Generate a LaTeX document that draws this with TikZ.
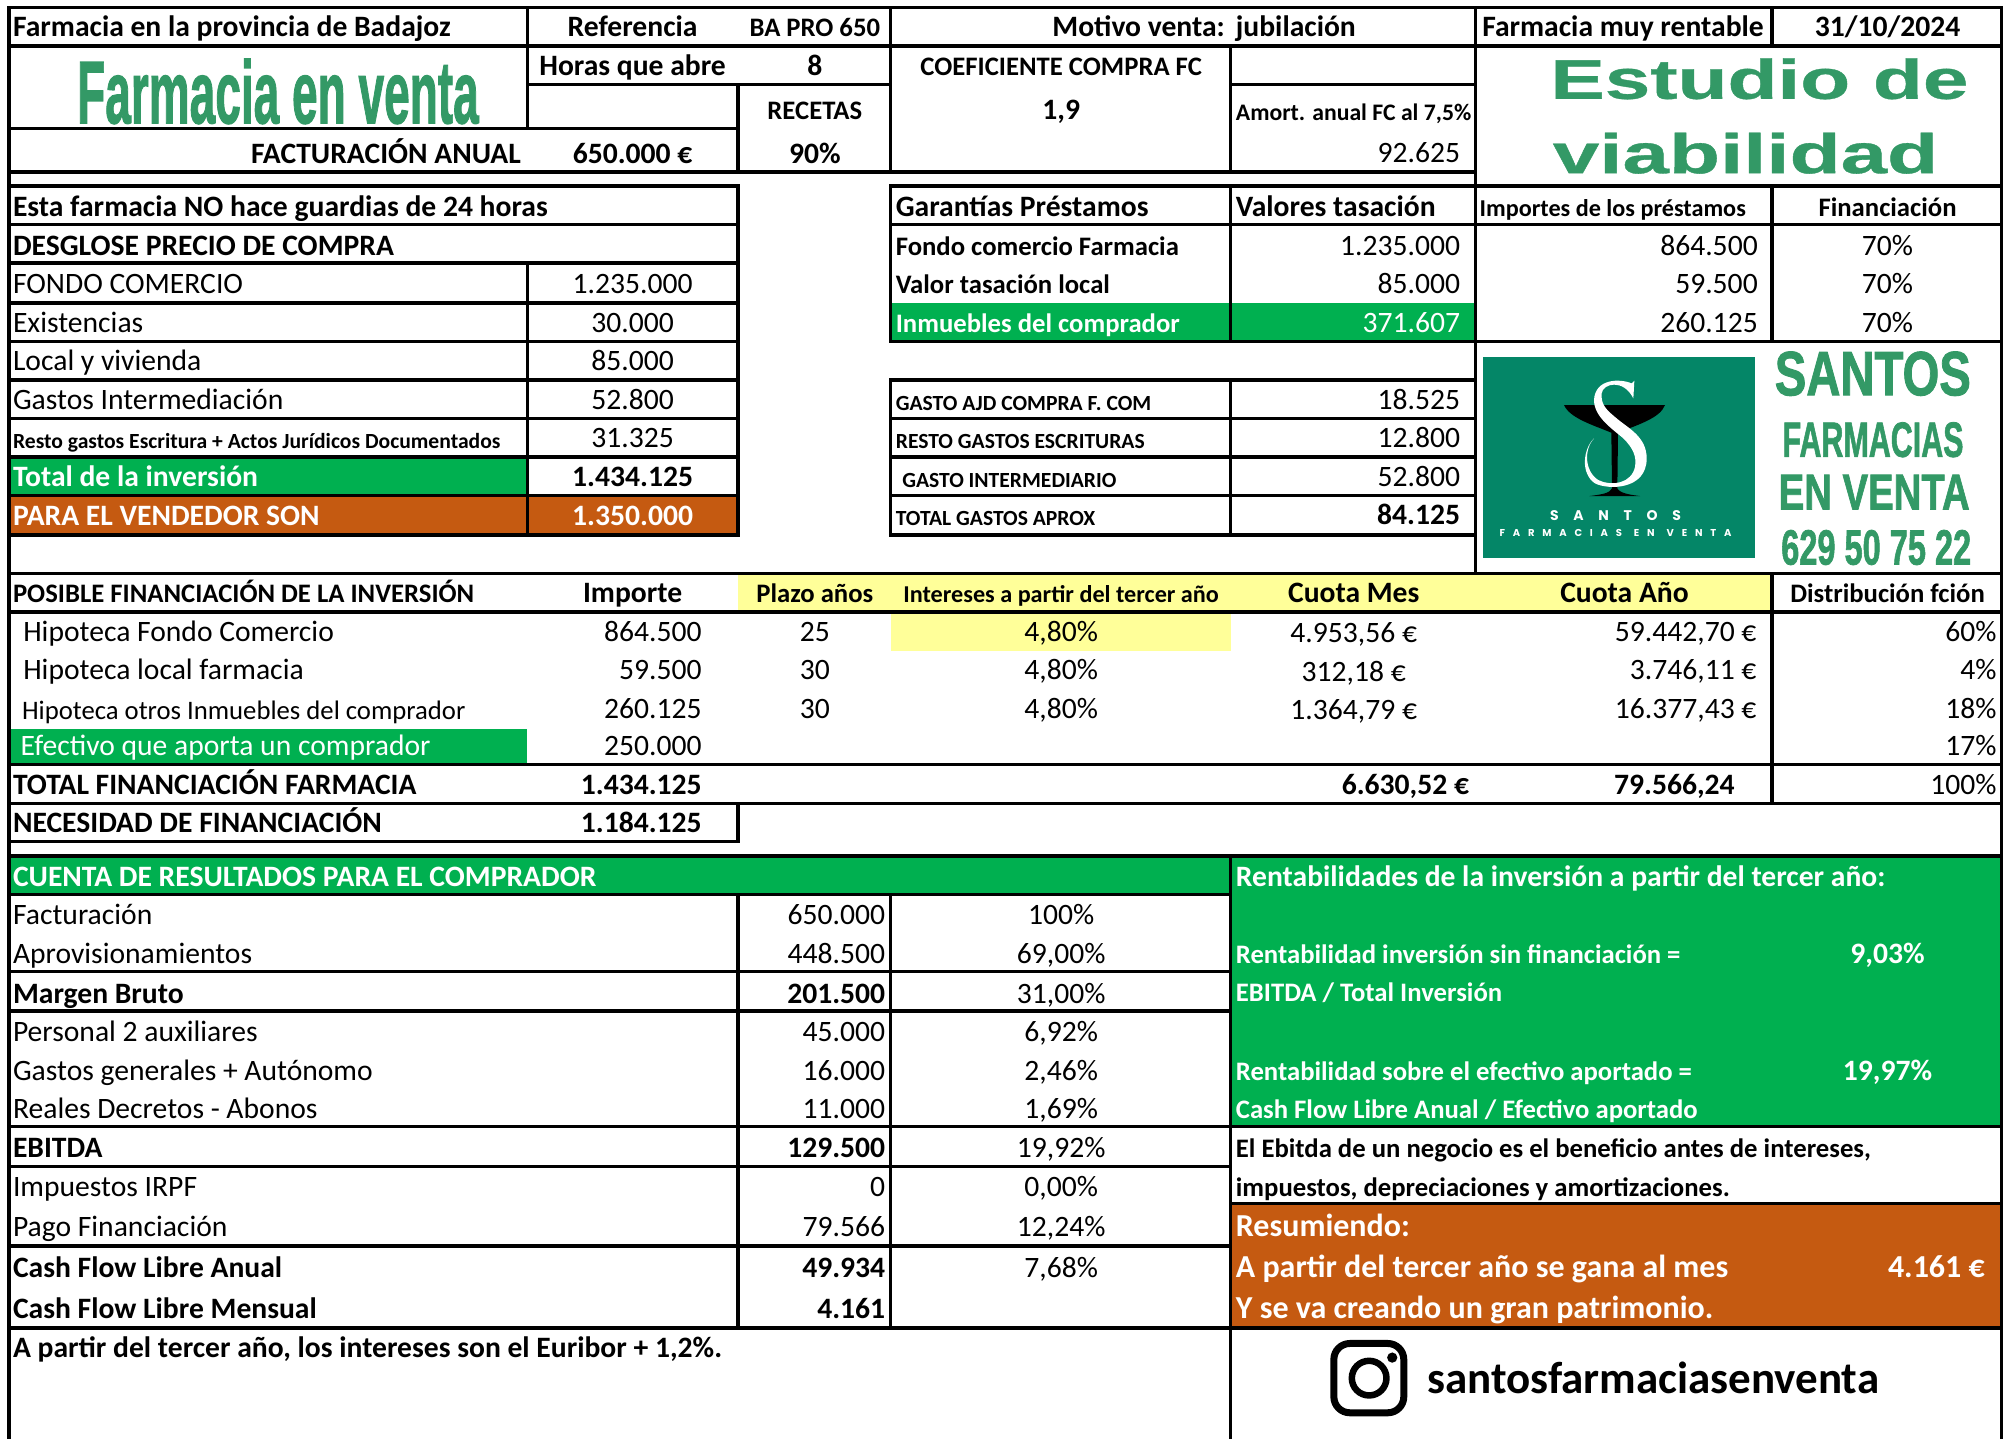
\documentclass[tikz,border=0pt]{standalone}
\usepackage{fontspec}
\setmainfont{Carlito}
\newfontfamily\artfont{Liberation Sans}[BoldFeatures={FakeBold=0.6}]
\newfontfamily\artfat{Liberation Sans}[BoldFeatures={FakeBold=1.6}]
\newfontfamily\logofonta{Poppins}[LetterSpace=105]
\newfontfamily\logofontb{Poppins}[LetterSpace=78]
\definecolor{xgreen}{HTML}{00B050}
\definecolor{xorange}{HTML}{C55A11}
\definecolor{xyellow}{HTML}{FFFF99}
\definecolor{artgreen}{HTML}{339966}
\definecolor{logogreen}{HTML}{048667}
\newcounter{tn}
\newcommand\tn[4]{\stepcounter{tn}\node[#1] (t\thetn) at (#2,#3+0.8) {#4};}
\newcommand\art[5]{\stepcounter{tn}\node[tArt] (t\thetn) at (#1,#2) {\resizebox{#3pt}{#4pt}{#5}};}
\tikzset{
  grid/.style={line width=3.4pt,line cap=rect,black},
  tL/.style={inner sep=0pt,anchor=base west,font=\fontsize{29.6}{29.6}\selectfont},
  tC/.style={inner sep=0pt,anchor=base,font=\fontsize{29.6}{29.6}\selectfont},
  tR/.style={inner sep=0pt,anchor=base east,font=\fontsize{29.6}{29.6}\selectfont},
  tB/.style={font=\fontsize{29.6}{29.6}\selectfont\bfseries},
  tBb/.style={font=\fontsize{32}{32}\selectfont\bfseries},
  tBs/.style={font=\fontsize{26.7}{26.7}\selectfont\bfseries},
  tBi/.style={font=\fontsize{24.2}{24.2}\selectfont\bfseries},
  tBa/.style={font=\fontsize{23.7}{23.7}\selectfont\bfseries},
  tBxs/.style={font=\fontsize{21.6}{21.6}\selectfont\bfseries},
  tN/.style={font=\fontsize{29.6}{29.6}\selectfont},
  tNs/.style={font=\fontsize{26.7}{26.7}\selectfont},
  tW/.style={text=white},
  tArt/.style={inner sep=0pt,anchor=base west,text=artgreen},
}
\begin{document}
\begin{tikzpicture}[x=1.2832pt,y=-1.2832pt]
\useasboundingbox (0,0) rectangle (1568,1121.4);
\fill[white] (0,0) rectangle (1568,1121.4);
% fills
\fill[xgreen] (7,356) rectangle (411,386);
\fill[xorange] (7,386) rectangle (575,417);
\fill[xgreen] (694,236) rectangle (1150,266);
\fill[xyellow] (575,447) rectangle (1381,477);
\fill[xyellow] (694,477) rectangle (959,507);
\fill[xgreen] (7,568) rectangle (411,596);
\fill[xgreen] (7,667) rectangle (959,697);
\fill[xgreen] (959,667) rectangle (1560,878);
\fill[xorange] (959,938) rectangle (1560,1035);
% horizontal rules
\draw[grid] (7,6) -- (1560,6);
\draw[grid] (7,36) -- (1560,36);
\draw[grid] (411,66) -- (694,66);
\draw[grid] (959,66) -- (1150,66);
\draw[grid] (7,100) -- (575,100);
\draw[grid] (7,134) -- (1150,134);
\draw[grid] (7,145) -- (575,145);
\draw[grid] (694,145) -- (1560,145);
\draw[grid] (7,175) -- (575,175);
\draw[grid] (694,175) -- (1560,175);
\foreach \yy in {205,236,266,296,326,356,386,417} {\draw[grid] (7,\yy) -- (575,\yy);}
\draw[grid] (694,266) -- (1560,266);
\foreach \yy in {296,326,356,386,417} {\draw[grid] (694,\yy) -- (1150,\yy);}
\draw[grid] (7,447) -- (1560,447);
\draw[grid] (7,477) -- (1560,477);
\draw[grid] (7,596) -- (1560,596);
\draw[grid] (7,626) -- (1560,626);
\draw[grid] (7,656) -- (575,656);
\draw[grid] (7,667) -- (1560,667);
\foreach \yy in {697,757,788,878,909,971} {\draw[grid] (7,\yy) -- (959,\yy);}
\draw[grid] (959,878) -- (1560,878);
\draw[grid] (959,938) -- (1560,938);
\draw[grid] (7,1035) -- (1560,1035);
% vertical rules
\draw[grid] (7,6) -- (7,1121.4);
\draw[grid] (1560,6) -- (1560,1121.4);
\draw[grid] (411,6) -- (411,100);
\draw[grid] (411,205) -- (411,417);
\draw[grid] (575,66) -- (575,134);
\draw[grid] (575,145) -- (575,417);
\draw[grid] (575,626) -- (575,656);
\draw[grid] (575,697) -- (575,1035);
\draw[grid] (694,6) -- (694,134);
\draw[grid] (694,145) -- (694,266);
\draw[grid] (694,296) -- (694,417);
\draw[grid] (694,697) -- (694,1035);
\draw[grid] (959,36) -- (959,134);
\draw[grid] (959,145) -- (959,266);
\draw[grid] (959,296) -- (959,417);
\draw[grid] (959,667) -- (959,1121.4);
\draw[grid] (1150,6) -- (1150,447);
\draw[grid] (1381,6) -- (1381,36);
\draw[grid] (1381,145) -- (1381,266);
\draw[grid] (1381,447) -- (1381,626);
% word art
\art{60}{96}{401.6}{64.2}{\artfat\bfseries Farmacia en venta}
\art{1208}{77}{418}{40.5}{\artfont\bfseries Estudio de}
\art{1210}{135}{385}{40.5}{\artfont\bfseries viabilidad}
\art{1383}{308}{196}{43.6}{\artfat\bfseries SANTOS}
\art{1389}{356}{181}{34.6}{\artfat\bfseries FARMACIAS}
\art{1386}{397}{191}{34.6}{\artfat\bfseries EN VENTA}
\art{1388}{440}{190}{34.6}{\artfat\bfseries 629 50 75 22}
% top block
\tn{tL,tB}{10}{28}{Farmacia en la provincia de Badajoz}
\tn{tC,tB}{493}{28}{Referencia}
\tn{tC,tBs}{635}{28}{BA PRO 650}
\tn{tL,tB}{820}{28}{Motivo venta:}
\tn{tL,tB}{963}{28}{jubilación}
\tn{tL,tB}{1155}{28}{Farmacia muy rentable}
\tn{tC,tB}{1471}{28}{31/10/2024}
\tn{tC,tB}{493}{58}{Horas que abre}
\tn{tC,tB}{635}{58}{8}
\tn{tC,tBs}{827}{58}{COEFICIENTE COMPRA FC}
\tn{tC,tBs}{635}{92}{RECETAS}
\tn{tC,tB}{827}{92}{1,9}
\tn{tL,tBa}{963}{93}{Amort. anual FC al 7,5\%}
\tn{tR,tB}{406}{127}{FACTURACIÓN ANUAL}
\tn{tC,tB}{493}{127}{650.000 €}
\tn{tC,tB}{635}{127}{90\%}
\tn{tR,tN}{1138}{126}{92.625}
% purchase breakdown
\tn{tL,tB}{10}{168}{Esta farmacia NO hace guardias de 24 horas}
\tn{tL,tB}{10}{198}{DESGLOSE PRECIO DE COMPRA}
\tn{tL,tN}{10}{228}{FONDO COMERCIO}
\tn{tC,tN}{493}{228}{1.235.000}
\tn{tL,tN}{10}{258}{Existencias}
\tn{tC,tN}{493}{258}{30.000}
\tn{tL,tN}{10}{288}{Local y vivienda}
\tn{tC,tN}{493}{288}{85.000}
\tn{tL,tN}{10}{318}{Gastos Intermediación}
\tn{tC,tN}{493}{318}{52.800}
\tn{tL,tBxs}{10}{349}{Resto gastos Escritura + Actos Jurídicos Documentados}
\tn{tC,tN}{493}{348}{31.325}
\tn{tL,tB,tW}{10}{378}{Total de la inversión}
\tn{tC,tB}{493}{378}{1.434.125}
\tn{tL,tB,tW}{10}{409}{PARA EL VENDEDOR SON}
\tn{tC,tB,tW}{493}{409}{1.350.000}
% guarantees
\tn{tL,tB}{698}{168}{Garantías Préstamos}
\tn{tL,tB}{963}{168}{Valores tasación}
\tn{tL,tBi}{1153}{168}{Importes de los préstamos}
\tn{tC,tBs}{1471}{168}{Financiación}
\tn{tL,tBs}{698}{198}{Fondo comercio Farmacia}
\tn{tR,tN}{1138}{198}{1.235.000}
\tn{tR,tN}{1370}{198}{864.500}
\tn{tC,tN}{1471}{198}{70\%}
\tn{tL,tBs}{698}{228}{Valor tasación local}
\tn{tR,tN}{1138}{228}{85.000}
\tn{tR,tN}{1370}{228}{59.500}
\tn{tC,tN}{1471}{228}{70\%}
\tn{tL,tBs,tW}{698}{258}{Inmuebles del comprador}
\tn{tR,tN,tW}{1138}{258}{371.607}
\tn{tR,tN}{1370}{258}{260.125}
\tn{tC,tN}{1471}{258}{70\%}
\tn{tL,tBxs}{698}{319}{GASTO AJD COMPRA F. COM}
\tn{tR,tN}{1138}{318}{18.525}
\tn{tL,tBxs}{698}{349}{RESTO GASTOS ESCRITURAS}
\tn{tR,tN}{1138}{348}{12.800}
\tn{tL,tBxs}{703}{379}{GASTO INTERMEDIARIO}
\tn{tR,tN}{1138}{378}{52.800}
\tn{tL,tBxs}{698}{409}{TOTAL GASTOS APROX}
\tn{tR,tB}{1138}{408}{84.125}
% financing table
\tn{tL,tBs}{10}{469}{POSIBLE FINANCIACIÓN DE LA INVERSIÓN}
\tn{tC,tB}{493}{469}{Importe}
\tn{tC,tBs}{635}{469}{Plazo años}
\tn{tC,tBi}{827}{469}{Intereses a partir del tercer año}
\tn{tC,tB}{1055}{469}{Cuota Mes}
\tn{tC,tB}{1266}{469}{Cuota Año}
\tn{tC,tBs}{1471}{469}{Distribución fción}
\tn{tL,tN}{18}{499}{Hipoteca Fondo Comercio}
\tn{tR,tN}{547}{499}{864.500}
\tn{tC,tN}{635}{499}{25}
\tn{tC,tN}{827}{499}{4,80\%}
\tn{tC,tN}{1055}{500}{4.953,56 €}
\tn{tR,tN}{1369}{499}{59.442,70 €}
\tn{tR,tN}{1556}{499}{60\%}
\tn{tL,tN}{18}{529}{Hipoteca local farmacia}
\tn{tR,tN}{547}{529}{59.500}
\tn{tC,tN}{635}{529}{30}
\tn{tC,tN}{827}{529}{4,80\%}
\tn{tC,tN}{1055}{530}{312,18 €}
\tn{tR,tN}{1369}{529}{3.746,11 €}
\tn{tR,tN}{1556}{529}{4\%}
\tn{tL,tNs}{17}{560}{Hipoteca otros Inmuebles del comprador}
\tn{tR,tN}{547}{559}{260.125}
\tn{tC,tN}{635}{559}{30}
\tn{tC,tN}{827}{559}{4,80\%}
\tn{tC,tN}{1055}{560}{1.364,79 €}
\tn{tR,tN}{1369}{559}{16.377,43 €}
\tn{tR,tN}{1556}{559}{18\%}
\tn{tL,tN,tW}{16}{588}{Efectivo que aporta un comprador}
\tn{tR,tN}{547}{588}{250.000}
\tn{tR,tN}{1556}{588}{17\%}
\tn{tL,tB}{10}{618}{TOTAL FINANCIACIÓN FARMACIA}
\tn{tR,tB}{547}{618}{1.434.125}
\tn{tR,tB}{1145}{618}{6.630,52 €}
\tn{tR,tB}{1352}{618}{79.566,24}
\tn{tR,tN}{1556}{618}{100\%}
\tn{tL,tB}{10}{648}{NECESIDAD DE FINANCIACIÓN}
\tn{tR,tB}{547}{648}{1.184.125}
% results table
\tn{tL,tB,tW}{10}{690}{CUENTA DE RESULTADOS PARA EL COMPRADOR}
\tn{tL,tB,tW}{963}{690}{Rentabilidades de la inversión a partir del tercer año:}
\tn{tL,tN}{10}{720}{Facturación}
\tn{tR,tN}{690}{720}{650.000}
\tn{tC,tN}{827}{720}{100\%}
\tn{tL,tN}{10}{750}{Aprovisionamientos}
\tn{tR,tN}{690}{750}{448.500}
\tn{tC,tN}{827}{750}{69,00\%}
\tn{tL,tBs,tW}{963}{750}{Rentabilidad inversión sin financiación =}
\tn{tC,tB,tW}{1471}{750}{9,03\%}
\tn{tL,tB}{10}{781}{Margen Bruto}
\tn{tR,tB}{690}{781}{201.500}
\tn{tC,tN}{827}{781}{31,00\%}
\tn{tL,tBs,tW}{963}{780}{EBITDA / Total Inversión}
\tn{tL,tN}{10}{811}{Personal 2 auxiliares}
\tn{tR,tN}{690}{811}{45.000}
\tn{tC,tN}{827}{811}{6,92\%}
\tn{tL,tN}{10}{841}{Gastos generales + Autónomo}
\tn{tR,tN}{690}{841}{16.000}
\tn{tC,tN}{827}{841}{2,46\%}
\tn{tL,tBs,tW}{963}{841}{Rentabilidad sobre el efectivo aportado =}
\tn{tC,tB,tW}{1471}{841}{19,97\%}
\tn{tL,tN}{10}{871}{Reales Decretos - Abonos}
\tn{tR,tN}{690}{871}{11.000}
\tn{tC,tN}{827}{871}{1,69\%}
\tn{tL,tBs,tW}{963}{871}{Cash Flow Libre Anual / Efectivo aportado}
\tn{tL,tB}{10}{901}{EBITDA}
\tn{tR,tB}{690}{901}{129.500}
\tn{tC,tN}{827}{901}{19,92\%}
\tn{tL,tBs}{963}{901}{El Ebitda de un negocio es el beneficio antes de intereses,}
\tn{tL,tN}{10}{932}{Impuestos IRPF}
\tn{tR,tN}{690}{932}{0}
\tn{tC,tN}{827}{932}{0,00\%}
\tn{tL,tBs}{963}{932}{impuestos, depreciaciones y amortizaciones.}
\tn{tL,tN}{10}{963}{Pago Financiación}
\tn{tR,tN}{690}{963}{79.566}
\tn{tC,tN}{827}{963}{12,24\%}
\tn{tL,tBb,tW}{963}{963}{Resumiendo:}
\tn{tL,tB}{10}{995}{Cash Flow Libre Anual}
\tn{tR,tB}{690}{995}{49.934}
\tn{tC,tN}{827}{995}{7,68\%}
\tn{tL,tBb,tW}{963}{995}{A partir del tercer año se gana al mes}
\tn{tR,tBb,tW}{1547}{995}{4.161 €}
\tn{tL,tB}{10}{1027}{Cash Flow Libre Mensual}
\tn{tR,tB}{690}{1027}{4.161}
\tn{tL,tBb,tW}{963}{1027}{Y se va creando un gran patrimonio.}
\tn{tL,tB}{10}{1057}{A partir del tercer año, los intereses son el Euribor + 1,2\%.}
% instagram
\draw[line width=7pt,rounded corners=16pt] (1039.5,1047) rectangle (1094,1101);
\draw[line width=6.5pt] (1067,1074) circle (13.5);
\fill (1085,1058) circle (4);
\tn{tL,font=\fontsize{45}{45}\selectfont\bfseries}{1112}{1085}{santosfarmaciasenventa}
% logo
\fill[logogreen] (1156,278) rectangle (1368,435);
\begin{scope}[shift={(1153.4,272.8)},scale=0.2598]
\fill[black] (252,165) -- (555,165) .. controls (540,205) and (470,225) .. (414,248) -- (412,415) .. controls (420,430) and (450,434) .. (480,438) -- (328,438) .. controls (360,434) and (390,430) .. (396,415) -- (394,248) .. controls (340,225) and (270,205) .. cycle;
\fill[white] (342,265) .. controls (310,295) and (300,370) .. (345,400) .. controls (385,420) and (500,420) .. (500,325) .. controls (500,260) and (445,235) .. (410,205) .. controls (380,180) and (362,165) .. (365,130) .. controls (368,100) and (430,85) .. (460,145) -- (463,92) -- (455,100) .. controls (420,85) and (345,85) .. (342,150) .. controls (342,200) and (395,235) .. (430,265) .. controls (460,295) and (470,320) .. (465,350) .. controls (455,400) and (395,410) .. (355,390) .. controls (315,365) and (310,300) .. cycle;
\end{scope}
\tn{tC,text=white,font=\logofonta\bfseries\fontsize{14}{14}\selectfont}{1259}{405}{SANTOS}
\tn{tC,text=white,font=\logofontb\bfseries\fontsize{10}{10}\selectfont}{1259}{417}{FARMACIAS\hspace{12pt}EN\hspace{12pt}VENTA}
\end{tikzpicture}
\end{document}
